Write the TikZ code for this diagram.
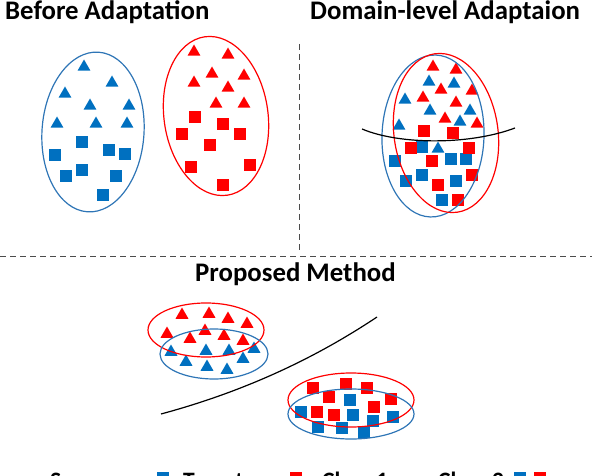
\documentclass[tikz,border=0pt]{standalone}
\usepackage{fontspec}
\setmainfont{Carlito}
\definecolor{srcblue}{HTML}{0070C0}
\definecolor{ringblue}{HTML}{2E75B6}
\definecolor{tgtred}{HTML}{FF0000}
\usetikzlibrary{shapes.geometric}

\begin{document}
\begin{tikzpicture}[x=1pt, y=-1pt,
    btri/.style={regular polygon, regular polygon sides=3, fill=srcblue,
        inner sep=0pt, minimum size=15pt},
    rtri/.style={btri, fill=tgtred},
    bsq/.style={rectangle, fill=srcblue, inner sep=0pt, minimum size=12pt},
    rsq/.style={bsq, fill=tgtred},
    bring/.style={draw=ringblue, line width=1.2pt},
    rring/.style={draw=tgtred, line width=1.2pt},
    divider/.style={draw=black!70, line width=0.8pt, dash pattern=on 6pt off 4pt},
    boundary/.style={draw=black, line width=1.2pt},
    ttl/.style={font=\bfseries\fontsize{26.8}{30}\selectfont, anchor=base west, inner sep=0pt},
    lgd/.style={ttl, font=\bfseries\fontsize{23.5}{28}\selectfont}
]
\clip (0,0) rectangle (592,476);

\node[ttl] (before) at (5,20) {Before Adaptation};
\node[ttl] (domain) at (310,20) {Domain-level Adaptaion};
\node[ttl] (proposed) at (195,281) {Proposed Method};

\draw[divider] (299,44) -- (299,250);
\draw[divider] (0,256) -- (592,256);

% before adaptation
\foreach \x/\y [count=\i] in {84/67, 112/83, 65/94, 90/106, 129/106, 57/124, 96/124, 127/124}
    \node[btri] (bta\i) at (\x,\y) {};
\foreach \x/\y [count=\i] in {82/142, 55/155, 109/150, 125/154, 66/176, 82/170, 116/176, 103/195}
    \node[bsq] (bsa\i) at (\x,\y) {};
\foreach \x/\y [count=\i] in {194/52, 228/55, 212/74, 244/76, 194/83, 228/88, 216/104, 244/104}
    \node[rtri] (rta\i) at (\x,\y) {};
\foreach \x/\y [count=\i] in {195/117, 223/124, 182/134, 240/134, 210/145, 191/167, 250/165, 223/185}
    \node[rsq] (rsa\i) at (\x,\y) {};
\draw[bring, rotate around={-4:(93,132)}] (93,132) ellipse [x radius=51pt, y radius=80pt];
\draw[rring, rotate around={8:(216,116)}] (216,116) ellipse [x radius=52pt, y radius=80pt];

% domain-level adaptation
\foreach \x/\y [count=\i] in {429/82, 454/84, 405/100, 430/111, 470/111, 399/126, 460/122, 438/149}
    \node[btri] (btb\i) at (\x,\y) {};
\foreach \x/\y [count=\i] in {422/147, 395/161, 451/159, 466/159, 422/175, 406/181, 456/181, 442/200}
    \node[bsq] (bsb\i) at (\x,\y) {};
\foreach \x/\y [count=\i] in {433/67, 456/70, 441/90, 472/91, 423/98, 456/103, 445/119, 477/124}
    \node[rtri] (rtb\i) at (\x,\y) {};
\foreach \x/\y [count=\i] in {424/131, 453/133, 411/148, 469/148, 432/161, 472/175, 438/185, 458/200}
    \node[rsq] (rsb\i) at (\x,\y) {};
\draw[bring, rotate around={-2:(433,136)}] (433,136) ellipse [x radius=51pt, y radius=81pt];
\draw[rring, rotate around={8:(446,133)}] (446,133) ellipse [x radius=52pt, y radius=80pt];
\draw[boundary] (362,129) .. controls (400,145) and (470,145) .. (515,128);

% proposed method
\foreach \x/\y [count=\i] in {182/315, 209/314, 228/319, 247/324, 167/334, 190/339, 205/331, 224/336, 243/341}
    \node[rtri] (rtc\i) at (\x,\y) {};
\foreach \x/\y [count=\i] in {171/352, 206/351, 229/351, 254/349, 186/362, 207/367, 227/370, 243/359}
    \node[btri] (btc\i) at (\x,\y) {};
\foreach \x/\y [count=\i] in {313/388, 346/384, 367/388, 329/397, 391/399, 317/412, 334/415, 374/407}
    \node[rsq] (rsc\i) at (\x,\y) {};
\foreach \x/\y [count=\i] in {350/400, 301/412, 353/415, 373/421, 393/417, 318/427, 342/428, 364/432}
    \node[bsq] (bsc\i) at (\x,\y) {};
\draw[rring] (206,330) ellipse [x radius=58pt, y radius=27pt];
\draw[bring] (214,354) ellipse [x radius=54pt, y radius=25pt];
\draw[rring] (351,400) ellipse [x radius=63pt, y radius=27pt];
\draw[bring] (351,414) ellipse [x radius=63pt, y radius=25pt];
\draw[boundary] (161,414) .. controls (250,390) and (320,355) .. (377,317);

% legend
\node[lgd] (source) at (50,488) {Source:};
\node[btri] (srctri) at (142,484) {};
\node[bsq] (srcsq) at (163,477.5) {};
\node[lgd] (target) at (183,488) {Target:};
\node[rtri] (tgttri) at (273,484) {};
\node[rsq] (tgtsq) at (296,477.5) {};
\node[lgd] (class1) at (322,488) {Class 1:};
\node[btri] (c1blue) at (403,484) {};
\node[rtri] (c1red) at (422,484) {};
\node[lgd] (class2) at (438,488) {Class 2:};
\node[bsq] (c2blue) at (520,477.5) {};
\node[rsq] (c2red) at (540,477.5) {};
\end{tikzpicture}
\end{document}
